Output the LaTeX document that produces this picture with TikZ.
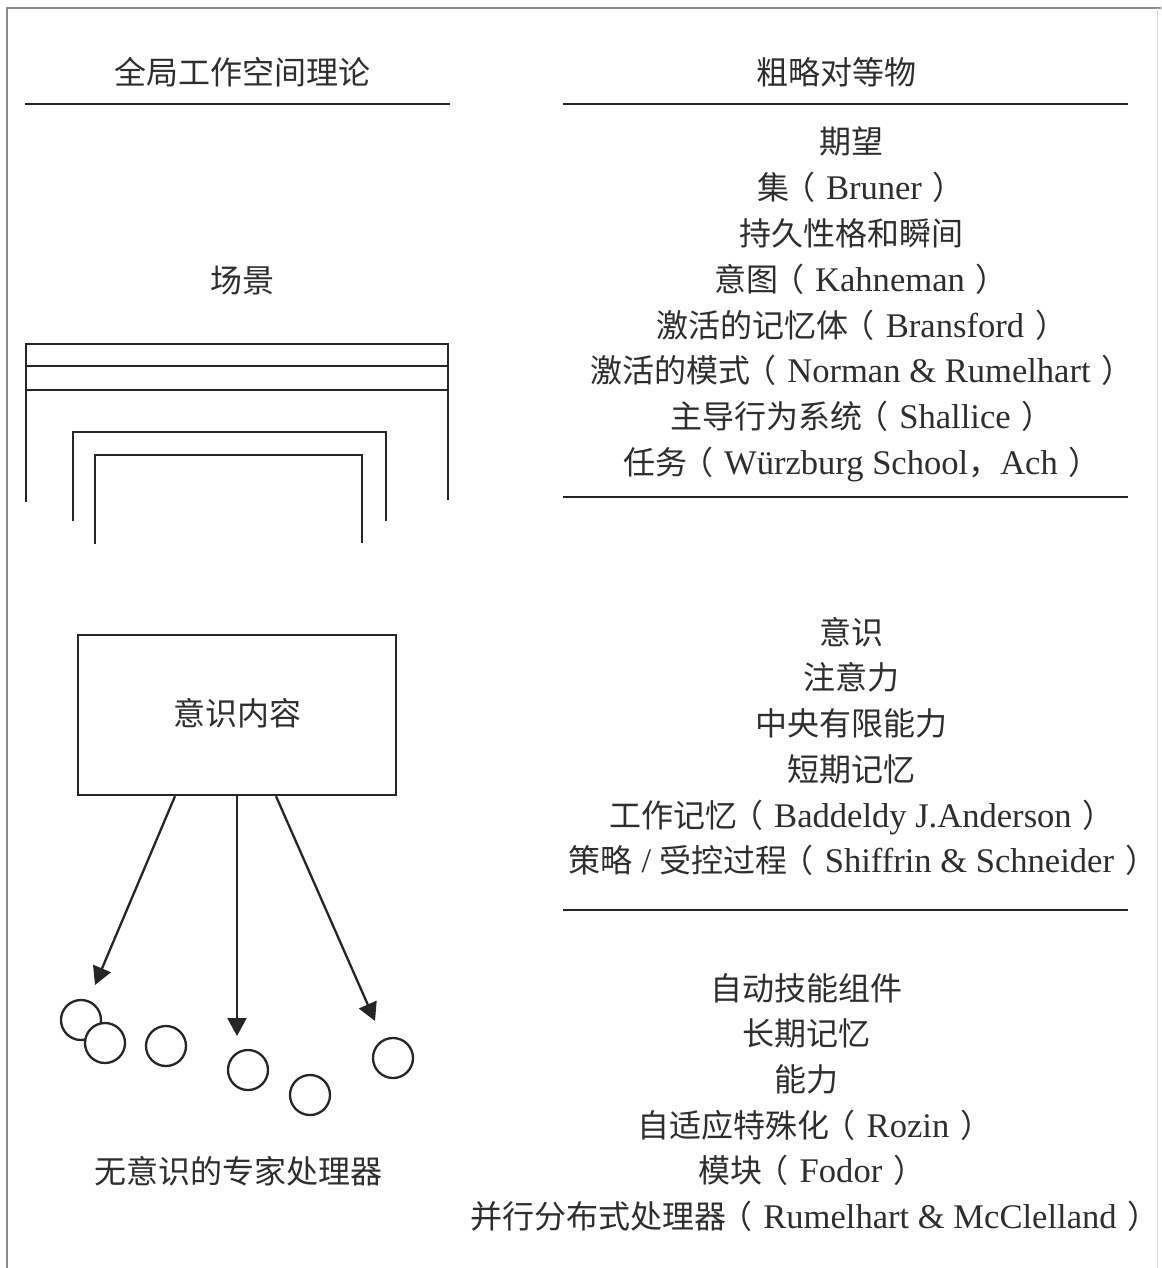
\documentclass[tikz,border=0pt]{standalone}
\usepackage{fontspec}
\setmainfont[Scale=1.08]{Liberation Serif}
\newfontfamily\cjk{Noto Sans CJK SC}
\newcommand\zhtxt[1]{{\cjk #1}}
\newcommand\lp{\hspace{-6pt}\zhtxt{（}\hspace{11pt}}
\newcommand\rp{\hspace{11pt}\zhtxt{）}\hspace{-14pt}}
\usetikzlibrary{arrows.meta}
\begin{document}
\begin{tikzpicture}[x=1pt,y=-1pt,
  txt/.style={inner sep=0pt, font=\fontsize{32pt}{38pt}\selectfont, text height=28pt, text depth=4pt, text=black!82},
  rule/.style={line width=2.8pt, draw=black!85},
  frame/.style={line width=2.4pt, draw=black!85},
  proc/.style={circle, draw=black!85, line width=2.3pt, minimum size=40pt, inner sep=0pt},
  arr/.style={line width=2.3pt, draw=black!85, fill=black!85, -{Triangle[length=18pt,width=19pt]}}
]
\useasboundingbox (0,0) rectangle (1161,1268);
% page frame
\draw[black!45, line width=1.6pt] (7,1268) -- (7,8) -- (1161,8);
\draw[black!15, line width=1pt] (1157,8) -- (1157,1268);

% headers
\node[txt] (lhead) at (242,73) {\zhtxt{全局工作空间理论}};
\node[txt] (rhead) at (836,73) {\zhtxt{粗略对等物}};
\draw[rule] (25,104) -- (450,104);
\draw[rule] (563,104) -- (1128,104);

% left: scene
\node[txt] (scene) at (242,280) {\zhtxt{场景}};
\draw[frame] (26,502) -- (26,344) -- (448,344) -- (448,500);
\draw[frame] (26,366) -- (448,366);
\draw[frame] (26,390) -- (448,390);
\draw[frame] (73,521) -- (73,432) -- (386,432) -- (386,521);
\draw[frame] (95,544) -- (95,455) -- (362,455) -- (362,543);

% conscious contents box
\node[frame, draw, minimum width=318pt, minimum height=160pt, inner sep=0pt] (cc) at (237,715) {};
\node[txt] (cctext) at (237,713) {\zhtxt{意识内容}};

% processors
\node[proc] (p1) at (81,1020) {};
\node[proc, fill=white] (p2) at (105,1043) {};
\node[proc] (p3) at (166,1046) {};
\node[proc] (p4) at (248,1070) {};
\node[proc] (p5) at (310,1095) {};
\node[proc] (p6) at (393,1058) {};

\coordinate (s1) at ([xshift=-62pt]cc.south);
\coordinate (s2) at (cc.south);
\coordinate (s3) at ([xshift=39pt]cc.south);
\coordinate (t1) at (95,985);
\coordinate (t2) at (237,1036);
\coordinate (t3) at (375,1021);
\draw[arr] (s1) -- (t1);
\draw[arr] (s2) -- (t2);
\draw[arr] (s3) -- (t3);

\node[txt] (uproc) at (238,1171) {\zhtxt{无意识的专家处理器}};

% right column, group 1
\node[txt] (g1a) at (851,142) {\zhtxt{期望}};
\node[txt] (g1b) at (861,188) {\zhtxt{集}\lp Bruner\rp};
\node[txt] (g1c) at (851,233) {\zhtxt{持久性格和瞬间}};
\node[txt] (g1d) at (861,279) {\zhtxt{意图}\lp Kahneman\rp};
\node[txt] (g1e) at (862,325) {\zhtxt{激活的记忆体}\lp Bransford\rp};
\node[txt] (g1f) at (862,370) {\zhtxt{激活的模式}\lp Norman \& Rumelhart\rp};
\node[txt] (g1g) at (862,416) {\zhtxt{主导行为系统}\lp Shallice\rp};
\node[txt] (g1h) at (862,462) {\zhtxt{任务}\lp Würzburg School\zhtxt{，}Ach\rp};
\draw[rule] (563,497) -- (1128,497);

% group 2
\node[txt] (g2a) at (851,632) {\zhtxt{意识}};
\node[txt] (g2b) at (851,677) {\zhtxt{注意力}};
\node[txt] (g2c) at (851,723) {\zhtxt{中央有限能力}};
\node[txt] (g2d) at (851,769) {\zhtxt{短期记忆}};
\node[txt] (g2e) at (862,815) {\zhtxt{工作记忆}\lp Baddeldy J.Anderson\rp};
\node[txt] (g2f) at (863,860) {\zhtxt{策略} / \zhtxt{受控过程}\lp Shiffrin \& Schneider\rp};
\draw[rule] (563,910) -- (1128,910);

% group 3
\node[txt] (g3a) at (806,988) {\zhtxt{自动技能组件}};
\node[txt] (g3b) at (806,1033) {\zhtxt{长期记忆}};
\node[txt] (g3c) at (806,1079) {\zhtxt{能力}};
\node[txt] (g3d) at (815,1125) {\zhtxt{自适应特殊化}\lp Rozin\rp};
\node[txt] (g3e) at (812,1170) {\zhtxt{模块}\lp Fodor\rp};
\node[txt] (g3f) at (815,1216) {\zhtxt{并行分布式处理器}\lp Rumelhart \& McClelland\rp};
\end{tikzpicture}
\end{document}
